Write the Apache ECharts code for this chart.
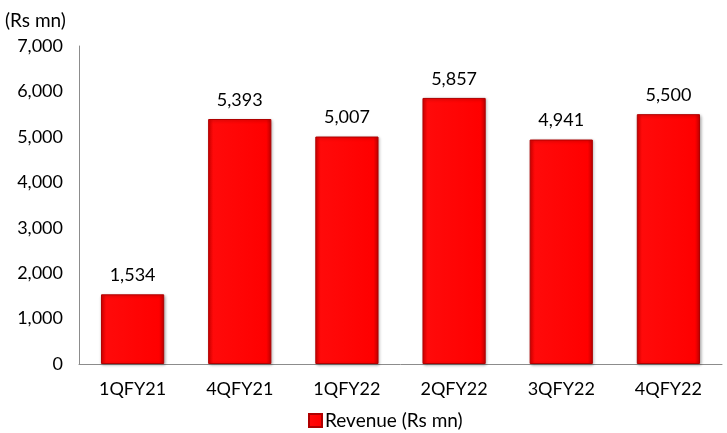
<!DOCTYPE html>
<html>
<head>
<meta charset="utf-8">
<script src="https://cdn.jsdelivr.net/npm/echarts@6/dist/echarts.min.js"></script>
<style>
  html, body { margin: 0; padding: 0; background: #fff; }
  #chart { width: 727px; height: 433px; }
</style>
</head>
<body>
<div id="chart"></div>
<script>
var quarters = ['1QFY21', '4QFY21', '1QFY22', '2QFY22', '3QFY22', '4QFY22'];
var revenue = [1534, 5393, 5007, 5857, 4941, 5500];
var seriesName = 'Revenue (Rs mn)';

var font = 'Lato, "Open Sans", sans-serif';
var barFill = new echarts.graphic.LinearGradient(0, 0, 1, 0, [
    {offset: 0, color: '#e00000'},
    {offset: 0.08, color: '#ff0a0a'},
    {offset: 0.92, color: '#ff0000'},
    {offset: 1, color: '#c00000'}
]);

var myChart = echarts.init(document.getElementById('chart'));
myChart.setOption({
    animation: false,
    textStyle: {fontFamily: font},
    title: {
        text: '(Rs mn)',
        left: 0, top: 6,
        textStyle: {fontFamily: font, fontSize: 19, fontWeight: 'normal', color: '#000'}
    },
    grid: {left: 79, right: 5, top: 46, bottom: 69, containLabel: false},
    legend: {
        data: [seriesName],
        bottom: -2,
        left: 303,
        itemWidth: 13, itemHeight: 13, itemGap: 4,
        icon: 'rect',
        textStyle: {fontFamily: font, fontSize: 19, color: '#000', padding: [0, 0, 0, -2]}
    },
    xAxis: {
        type: 'category',
        data: quarters,
        axisLine: {lineStyle: {color: '#8c8c8c', width: 1}},
        axisTick: {show: false},
        axisLabel: {color: '#000', fontSize: 18, margin: 16, fontFamily: font}
    },
    yAxis: {
        type: 'value',
        min: 0, max: 7000, interval: 1000,
        axisLine: {show: true, lineStyle: {color: '#8c8c8c', width: 1}},
        axisTick: {show: false},
        splitLine: {show: false},
        axisLabel: {
            color: '#000', fontSize: 18, margin: 16, fontFamily: font,
            formatter: function (v) { return v.toLocaleString('en-US'); }
        }
    },
    series: [{
        name: seriesName,
        type: 'bar',
        data: revenue,
        barWidth: '59%',
        itemStyle: {
            color: barFill,
            borderColor: '#b00000',
            borderWidth: 1,
            shadowColor: 'rgba(0,0,0,0.3)',
            shadowBlur: 3,
            shadowOffsetX: 1,
            shadowOffsetY: 1
        },
        label: {
            show: true,
            position: 'top',
            distance: 10,
            color: '#000',
            fontSize: 18,
            fontFamily: font,
            formatter: function (p) { return p.value.toLocaleString('en-US'); }
        }
    }]
});
</script>
</body>
</html>
